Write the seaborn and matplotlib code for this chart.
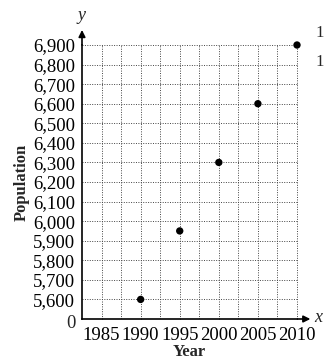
import matplotlib
matplotlib.use('Agg')
import matplotlib.pyplot as plt
import numpy as np
import pandas as pd
import seaborn as sns

years = [1990, 1995, 2000, 2005, 2010]
population = [5600, 5950, 6300, 6600, 6900]
x_ticks = [1985, 1990, 1995, 2000, 2005, 2010]
y_ticks = list(range(5600, 7000, 100))

df = pd.DataFrame({'Year': years, 'Population': population})

sns.set_style('white')
plt.rcParams['font.family'] = ['Liberation Serif', 'DejaVu Serif']

fig = plt.figure(figsize=(3.24, 3.62), dpi=100)
ax = fig.add_axes([82 / 324, 1 - 319 / 362, (297 - 82) / 324, (319 - 45) / 362])

sns.scatterplot(data=df, x='Year', y='Population', ax=ax, color='black',
                s=28, edgecolor='none', zorder=5, clip_on=False)

ax.set_xlim(1982.5, 2010)
ax.set_ylim(5500, 6900)

ax.set_xticks(x_ticks)
ax.set_xticks(np.arange(1985, 2011, 2.5), minor=True)
ax.set_yticks(y_ticks)
ax.set_yticklabels([f'{v:,}' for v in y_ticks])

ax.grid(True, which='both', color='#444444', linestyle=(0, (1, 1.5)), lw=0.7)
for ln in ax.get_xgridlines() + ax.get_ygridlines():
    ln.set_clip_on(False)

ax.tick_params(axis='x', which='major', direction='in', length=4, width=1, pad=6,
               labelsize=13.5, colors='black')
ax.tick_params(axis='x', which='minor', length=0)
ax.tick_params(axis='y', direction='out', length=4, width=1, pad=1,
               labelsize=13.5, colors='black')

for s in ['top', 'right']:
    ax.spines[s].set_visible(False)
for s in ['left', 'bottom']:
    ax.spines[s].set_color('black')
    ax.spines[s].set_linewidth(1.2)

# arrows on the axes
ax.annotate('', xy=(0, 1.065), xytext=(0, 0.99), xycoords='axes fraction',
            arrowprops=dict(arrowstyle='-|>', color='black', lw=1.2, mutation_scale=10),
            annotation_clip=False)
ax.annotate('', xy=(1.075, 0), xytext=(0.99, 0), xycoords='axes fraction',
            arrowprops=dict(arrowstyle='-|>', color='black', lw=1.2, mutation_scale=10),
            annotation_clip=False)

fig.text(82 / 324, 1 - 15 / 362, 'y', style='italic', fontsize=13, ha='center', va='center')
fig.text(318 / 324, 1 - 318 / 362, 'x', style='italic', fontsize=13, ha='center', va='center')
fig.text(71 / 324, 1 - 324 / 362, '0', fontsize=13.5, ha='center', va='center')

ax.set_xlabel('Year', fontsize=12, fontweight='bold', labelpad=0)
ax.set_ylabel('Population', fontsize=12, fontweight='bold', labelpad=2)

fig.text(315 / 324, 1 - 33 / 362, '1', fontsize=12, ha='left', va='center')
fig.text(315 / 324, 1 - 62 / 362, '1', fontsize=12, ha='left', va='center')

fig.savefig('out.png', dpi=100)
